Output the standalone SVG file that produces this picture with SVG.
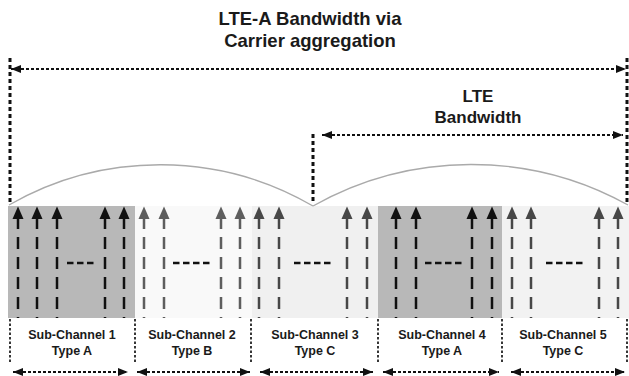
<svg xmlns="http://www.w3.org/2000/svg" xmlns:xlink="http://www.w3.org/1999/xlink" width="629" height="376" viewBox="0 0 629 376">
<style>
  .t { font-family: "Liberation Sans", Arial, sans-serif; font-weight: bold; fill: #1a1a1a; text-anchor: middle; }
  .title { font-size: 18.5px; }
  .lte { font-size: 17px; }
  .lbl { font-size: 12.5px; }
  .dark { fill: #b8b8b8; }
  .hd { stroke: #111; stroke-width: 2; stroke-dasharray: 3 2; fill: none; }
  .vd { stroke: #111; stroke-width: 3; stroke-dasharray: 4 3; fill: none; }
  .sep { stroke: #222; stroke-width: 1.8; stroke-dasharray: 2.5 2; fill: none; }
  .arc { stroke: #aaaaaa; stroke-width: 1.3; fill: none; }
  .more { stroke: #111; stroke-width: 2.6; stroke-dasharray: 6.5 3.5; fill: none; }
  .blk { fill: #111; stroke: #111; }
  .gry { fill: #5e5e5e; stroke: #5e5e5e; }
  .mid { fill: #474747; stroke: #474747; }
</style>
<defs>
  <marker id="ah" viewBox="0 0 10 8" refX="10" refY="4" markerWidth="10" markerHeight="8" markerUnits="userSpaceOnUse" orient="auto-start-reverse">
    <path d="M0,0 L10,4 L0,8 z" fill="#111"/>
  </marker>
  <g id="va">
    <polygon points="0,206.5 -5.5,219 5.5,219" stroke="none"/>
    <line x1="0" y1="217" x2="0" y2="318" fill="none" stroke-width="2.5" stroke-dasharray="12 8"/>
  </g>
</defs>

<rect width="629" height="376" fill="#ffffff"/>

<g id="title">
  <text class="t title" x="310" y="25">LTE-A Bandwidth via</text>
  <text class="t title" x="310" y="47">Carrier aggregation</text>
</g>

<g id="lte-label">
  <text class="t lte" x="478" y="102">LTE</text>
  <text class="t lte" x="478" y="123">Bandwidth</text>
</g>

<g id="subchannel-1">
  <rect class="dark" x="8" y="206" width="127" height="112"/>
  <use href="#va" x="18" class="blk"/>
  <use href="#va" x="37" class="blk"/>
  <use href="#va" x="57" class="blk"/>
  <use href="#va" x="105" class="blk"/>
  <use href="#va" x="124" class="blk"/>
  <line class="more" x1="67" y1="263" x2="93.5" y2="263"/>
  <text class="t lbl" x="72" y="339">Sub-Channel 1</text>
  <text class="t lbl" x="72" y="355">Type A</text>
</g>

<g id="subchannel-2">
  <rect fill="#f9f9f9" x="135" y="206" width="117" height="112"/>
  <use href="#va" x="144" class="gry"/>
  <use href="#va" x="164" class="gry"/>
  <use href="#va" x="221" class="gry"/>
  <use href="#va" x="240" class="gry"/>
  <line class="more" x1="173" y1="263" x2="210" y2="263"/>
  <text class="t lbl" x="192" y="339">Sub-Channel 2</text>
  <text class="t lbl" x="192" y="355">Type B</text>
</g>

<g id="subchannel-3">
  <rect fill="#f0f0f0" x="252" y="206" width="126" height="112"/>
  <use href="#va" x="259" class="mid"/>
  <use href="#va" x="279" class="mid"/>
  <use href="#va" x="347" class="mid"/>
  <use href="#va" x="367" class="mid"/>
  <line class="more" x1="294" y1="263" x2="331" y2="263"/>
  <text class="t lbl" x="315" y="339">Sub-Channel 3</text>
  <text class="t lbl" x="315" y="355">Type C</text>
</g>

<g id="subchannel-4">
  <rect class="dark" x="378" y="206" width="124" height="112"/>
  <use href="#va" x="396" class="blk"/>
  <use href="#va" x="416" class="blk"/>
  <use href="#va" x="472" class="blk"/>
  <use href="#va" x="492" class="blk"/>
  <line class="more" x1="425" y1="263" x2="462" y2="263"/>
  <text class="t lbl" x="442" y="339">Sub-Channel 4</text>
  <text class="t lbl" x="442" y="355">Type A</text>
</g>

<g id="subchannel-5">
  <rect fill="#f2f2f2" x="502" y="206" width="127" height="112"/>
  <use href="#va" x="512" class="mid"/>
  <use href="#va" x="531" class="mid"/>
  <use href="#va" x="599" class="mid"/>
  <use href="#va" x="618" class="mid"/>
  <line class="more" x1="546" y1="263" x2="583" y2="263"/>
  <text class="t lbl" x="563" y="339">Sub-Channel 5</text>
  <text class="t lbl" x="563" y="355">Type C</text>
</g>

<g id="connectors">
  <!-- carrier arcs -->
  <path class="arc" d="M9,205 A304,304 0 0 1 313,206"/>
  <path class="arc" d="M313,206 A323,323 0 0 1 628,205"/>
  <!-- LTE-A bandwidth -->
  <line class="vd" x1="10" y1="58" x2="10" y2="205"/>
  <line class="vd" x1="627" y1="58" x2="627" y2="205"/>
  <line class="hd" x1="11" y1="69" x2="626" y2="69" marker-start="url(#ah)" marker-end="url(#ah)"/>
  <!-- LTE bandwidth -->
  <line class="vd" x1="313" y1="134" x2="313" y2="204"/>
  <line class="hd" x1="322" y1="135" x2="623" y2="135" marker-start="url(#ah)" marker-end="url(#ah)"/>
  <!-- sub-channel separators -->
  <line class="sep" x1="10" y1="319" x2="10" y2="363"/>
  <line class="sep" x1="135" y1="319" x2="135" y2="363"/>
  <line class="sep" x1="251" y1="319" x2="251" y2="363"/>
  <line class="sep" x1="378" y1="319" x2="378" y2="363"/>
  <line class="sep" x1="502" y1="319" x2="502" y2="363"/>
  <line class="sep" x1="627" y1="319" x2="627" y2="363"/>
  <!-- sub-channel widths -->
  <line class="hd" x1="13" y1="372" x2="128" y2="372" marker-start="url(#ah)" marker-end="url(#ah)"/>
  <line class="hd" x1="137" y1="372" x2="250" y2="372" marker-start="url(#ah)" marker-end="url(#ah)"/>
  <line class="hd" x1="260" y1="372" x2="373" y2="372" marker-start="url(#ah)" marker-end="url(#ah)"/>
  <line class="hd" x1="383" y1="372" x2="499" y2="372" marker-start="url(#ah)" marker-end="url(#ah)"/>
  <line class="hd" x1="511" y1="372" x2="625" y2="372" marker-start="url(#ah)" marker-end="url(#ah)"/>
</g>
</svg>
